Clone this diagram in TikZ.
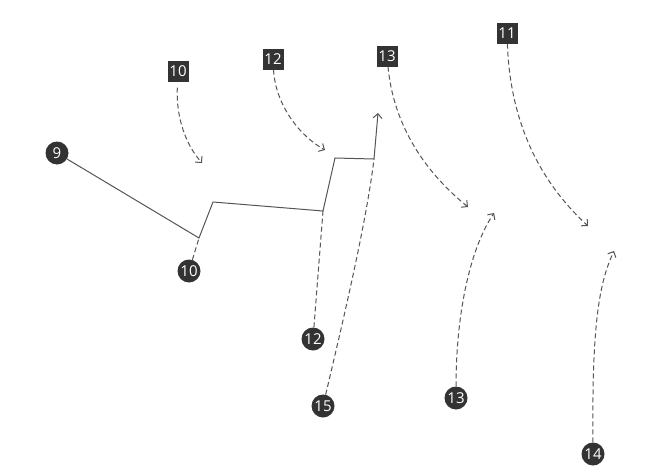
\documentclass[tikz,border=0pt]{standalone}
\usepackage{fontspec}
\setmainfont{Open Sans}
\usetikzlibrary{arrows.meta}
\definecolor{ink}{HTML}{333333}
\definecolor{lin}{HTML}{555555}
\begin{document}
\begin{tikzpicture}[x=1pt,y=-1pt,
  lab/.style={text=white,inner sep=0pt,font=\fontsize{15}{15}\selectfont},
  sq/.style={lab,fill=ink,minimum width=21pt,minimum height=21pt},
  ci/.style={lab,circle,fill=ink,minimum size=23pt},
  sol/.style={draw=lin,line width=1pt},
  dsh/.style={draw=lin,line width=1pt,dash pattern=on 5pt off 3pt},
  tip/.style={-{Straight Barb[length=4.5pt,width=9pt]}}]
\fill[white] (0,0) rectangle (653,471);
\useasboundingbox (0,0) rectangle (653,471);
% path vertices
\coordinate (v1) at (199,238);
\coordinate (v2) at (213,202);
\coordinate (v3) at (323,211);
\coordinate (v4) at (335,158);
\coordinate (v5) at (374,159);
\coordinate (v6) at (378,113);
% arrow ends
\coordinate (a10) at (202,163);
\coordinate (a12) at (325,150);
\coordinate (a13) at (468,207);
\coordinate (a11) at (588,226);
\coordinate (b13) at (494,213);
\coordinate (b14) at (614,251);
% nodes
\node[ci] (c9)  at (57,153)  {9};
\node[ci] (c10) at (189,271) {10};
\node[ci] (c12) at (313,339) {12};
\node[ci] (c15) at (323,406) {15};
\node[ci] (c13) at (456,398) {13};
\node[ci] (c14) at (593,454) {14};
\node[sq] (s10) at (178,71) {10};
\node[sq] (s12) at (273,59) {12};
\node[sq] (s13) at (387,56) {13};
\node[sq] (s11) at (507,33) {11};
% solid path
\draw[sol,tip] (c9) -- (v1) -- (v2) -- (v3) -- (v4) -- (v5) -- (v6);
% dashed from circles
\draw[dsh] (c10) -- (v1);
\draw[dsh] (c12) -- (v3);
\draw[dsh] (c15) .. controls (342,325) and (366,225) .. (v5);
\draw[dsh,tip] (c13) .. controls (456,320) and (468,252) .. (b13);
\draw[dsh,tip] (c14) .. controls (592,330) and (598,285) .. (b14);
% dashed from squares
\draw[dsh,tip,shorten <=6pt] (s10) .. controls (176,118) and (186,145) .. (a10);
\draw[dsh,tip] (s12) .. controls (275,100) and (295,133) .. (a12);
\draw[dsh,tip] (s13) .. controls (393,120) and (420,168) .. (a13);
\draw[dsh,tip] (s11) .. controls (510,120) and (538,180) .. (a11);
\end{tikzpicture}
\end{document}
